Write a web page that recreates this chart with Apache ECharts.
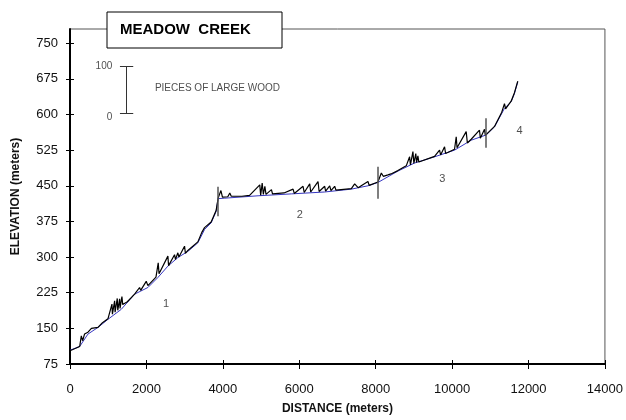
<!DOCTYPE html>
<html>
<head>
<meta charset="utf-8">
<title>Meadow Creek</title>
<script src="https://cdn.jsdelivr.net/npm/echarts@6/dist/echarts.min.js"></script>
<style>
  html, body { margin: 0; padding: 0; background: #fff; }
  #chart { width: 626px; height: 420px; }
</style>
</head>
<body>
<div id="chart"></div>
<script>
// smoothed channel profile, [distance m, elevation m]
var profile = [
  [0, 104], [254, 112], [470, 138], [732, 152], [993, 169], [1341, 190],
  [1691, 222], [2039, 236], [2300, 257], [2562, 281], [2823, 299], [3085, 312],
  [3346, 330], [3521, 358], [3694, 372], [3824, 396], [3877, 423],
  [4052, 424], [4922, 429], [5795, 433], [6666, 437], [7364, 443], [7798, 450],
  [8059, 457], [8582, 481], [9018, 498], [9541, 511], [10064, 525], [10500, 546],
  [10892, 557], [11110, 574], [11371, 613], [11546, 627], [11632, 644], [11719, 669]
];

// profile with pieces of large wood added on top (spikes)
var woodProfile = [
  [0, 103], [150, 108], [254, 112], [296, 134], [330, 124], [380, 138], [470, 142],
  [560, 150], [732, 152], [850, 162], [993, 170], [1098, 201], [1110, 180],
  [1168, 208], [1180, 184], [1237, 213], [1250, 188], [1299, 212], [1310, 192],
  [1359, 217], [1380, 200], [1500, 206], [1691, 222], [1821, 236], [1850, 230],
  [1995, 249], [2039, 240], [2250, 258], [2309, 288], [2330, 265], [2562, 302],
  [2580, 282], [2736, 305], [2760, 295], [2823, 309], [2850, 300], [2998, 323],
  [3020, 308], [3085, 314], [3346, 332], [3450, 352], [3521, 362], [3694, 374],
  [3824, 398], [3877, 424],
  [3920, 426], [3950, 440], [3990, 426], [4130, 427], [4182, 435], [4220, 428],
  [4500, 428], [4700, 430], [4967, 452], [4990, 430], [5030, 456], [5060, 432],
  [5100, 449], [5130, 432], [5272, 442], [5300, 433], [5600, 435], [5838, 443],
  [5870, 434], [6099, 449], [6130, 436], [6274, 454], [6300, 437], [6491, 459],
  [6520, 438], [6666, 449], [6690, 439], [6797, 450], [6830, 440], [6927, 449],
  [6960, 441], [7364, 444], [7450, 454], [7540, 446], [7798, 459], [7830, 451],
  [8059, 458], [8148, 477], [8200, 470], [8321, 473], [8400, 475], [8582, 482],
  [8800, 492], [8888, 511], [8910, 494], [8975, 522], [9000, 497], [9050, 518],
  [9070, 499], [9105, 513], [9130, 500], [9541, 512], [9672, 525], [9700, 515],
  [9803, 532], [9830, 518], [10064, 527], [10108, 553], [10130, 530], [10369, 564],
  [10400, 540], [10500, 548], [10717, 567], [10740, 550], [10848, 569], [10870, 556],
  [10892, 558], [11110, 575], [11300, 605], [11371, 623], [11400, 612], [11546, 628],
  [11632, 646], [11719, 670]
];

// reach boundaries: [distance, bottom, top]
var reachBreaks = [[3877, 386, 448], [8043, 423, 490], [10892, 530, 592]];
// reach numbers: [distance, elevation, label]
var reachLabels = [[2517, 201, '1'], [6012, 389, '2'], [9743, 465, '3'], [11763, 566, '4']];

// scale bar for 100 pieces of wood
var scaleBar = { x: 1482, x0: 1307, x1: 1655, lo: 602, hi: 702 };

var xTicks = [0, 2000, 4000, 6000, 8000, 10000, 12000, 14000];
var yTicks = [75, 150, 225, 300, 375, 450, 525, 600, 675, 750];

var chart = echarts.init(document.getElementById('chart'));

var font = 'Liberation Sans, Arial, sans-serif';

var segs = reachBreaks.map(function (b) {
  return { coords: [[b[0], b[1]], [b[0], b[2]]] };
});
var scaleSegs = [
  { coords: [[scaleBar.x, scaleBar.lo], [scaleBar.x, scaleBar.hi]] },
  { coords: [[scaleBar.x0, scaleBar.lo], [scaleBar.x1, scaleBar.lo]] },
  { coords: [[scaleBar.x0, scaleBar.hi], [scaleBar.x1, scaleBar.hi]] }
];

var plain = function (v) { return String(v); };

var xBase = { type: 'value', min: 0, max: 14000, interval: 2000, splitLine: { show: false } };
var yBase = { type: 'value', min: 75, max: 780, interval: 75, splitLine: { show: false } };

chart.setOption({
  animation: false,
  grid: {
    left: 70, right: 21, top: 29, bottom: 55,
    show: true, borderColor: '#555', borderWidth: 1, backgroundColor: '#fff'
  },
  xAxis: [
    Object.assign({}, xBase, {
      position: 'bottom',
      name: 'DISTANCE (meters)',
      nameLocation: 'middle',
      nameGap: 39,
      nameTextStyle: { fontFamily: font, fontWeight: 'bold', fontSize: 12, color: '#111' },
      axisLine: { lineStyle: { color: '#000', width: 2 } },
      axisTick: { customValues: xTicks, length: 5, lineStyle: { color: '#000' } },
      axisLabel: {
        customValues: xTicks, formatter: plain, margin: 19,
        fontFamily: font, fontSize: 13, color: '#111'
      }
    }),
    Object.assign({}, xBase, {
      position: 'bottom',
      axisLine: { show: false },
      axisTick: { customValues: xTicks, inside: true, length: 4, lineStyle: { color: '#000' } },
      axisLabel: { show: false }
    })
  ],
  yAxis: [
    Object.assign({}, yBase, {
      position: 'left',
      name: 'ELEVATION (meters)',
      nameLocation: 'middle',
      nameGap: 48,
      nameTextStyle: { fontFamily: font, fontWeight: 'bold', fontSize: 12, color: '#111' },
      axisLine: { lineStyle: { color: '#000', width: 2 } },
      axisTick: { customValues: yTicks, length: 4, lineStyle: { color: '#000' } },
      axisLabel: {
        customValues: yTicks, formatter: plain, margin: 12,
        fontFamily: font, fontSize: 13, color: '#111'
      }
    }),
    Object.assign({}, yBase, {
      position: 'left',
      axisLine: { show: false },
      axisTick: { customValues: yTicks, inside: true, length: 4, lineStyle: { color: '#000' } },
      axisLabel: { show: false }
    })
  ],
  graphic: [
    {
      type: 'rect',
      shape: { x: 107, y: 12, width: 175, height: 36 },
      style: { fill: '#fff', stroke: '#000', lineWidth: 1 },
      z: 100
    },
    {
      type: 'text',
      x: 120, y: 30,
      style: {
        text: 'MEADOW  CREEK', fontFamily: font, fontWeight: 'bold', fontSize: 15,
        fill: '#000', verticalAlign: 'middle'
      },
      z: 101
    }
  ],
  series: [
    {
      type: 'line', data: profile, showSymbol: false, smooth: false,
      lineStyle: { color: '#3535c0', width: 1 }, z: 2
    },
    {
      type: 'line', data: woodProfile, showSymbol: false,
      lineStyle: { color: '#000', width: 1.2 }, z: 3
    },
    {
      type: 'lines', coordinateSystem: 'cartesian2d', data: segs,
      lineStyle: { color: '#555', width: 1.5, opacity: 1 }, z: 4
    },
    {
      type: 'lines', coordinateSystem: 'cartesian2d', data: scaleSegs,
      lineStyle: { color: '#333', width: 1, opacity: 1 }, z: 4
    },
    {
      type: 'scatter', symbolSize: 0,
      data: reachLabels.map(function (r) { return { value: [r[0], r[1]], name: r[2] }; }),
      label: {
        show: true, position: 'inside', formatter: '{b}',
        fontFamily: font, fontSize: 11, color: '#222'
      }
    },
    {
      type: 'scatter', symbolSize: 0,
      data: [
        { value: [scaleBar.x0 - 200, scaleBar.hi], name: '100' },
        { value: [scaleBar.x0 - 200, scaleBar.lo - 7], name: '0' }
      ],
      label: {
        show: true, position: 'inside', formatter: '{b}', align: 'right',
        fontFamily: font, fontSize: 10, color: '#222'
      }
    },
    {
      type: 'scatter', symbolSize: 0,
      data: [{ value: [2222, 655], name: 'PIECES OF LARGE WOOD' }],
      label: {
        show: true, position: 'inside', formatter: '{b}', align: 'left',
        fontFamily: font, fontSize: 10, color: '#222'
      }
    }
  ]
});
</script>
</body>
</html>
